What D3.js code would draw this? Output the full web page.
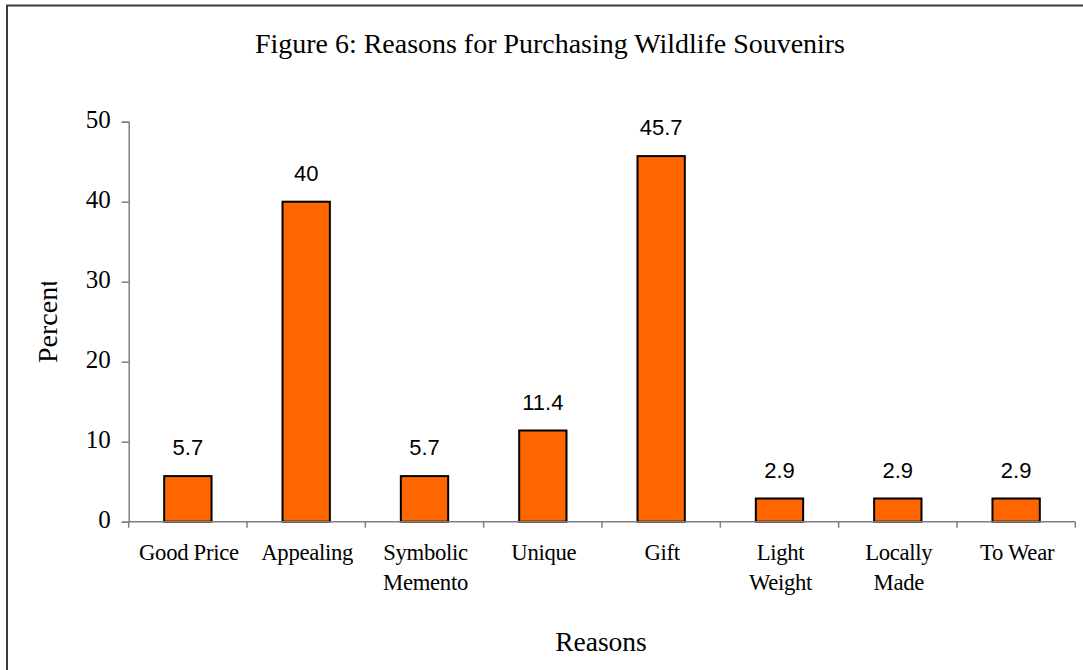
<!DOCTYPE html>
<html>
<head>
<meta charset="utf-8">
<script src="https://cdn.jsdelivr.net/npm/d3@7"></script>
<style>
  html, body { margin: 0; padding: 0; background: #fff; }
  svg { display: block; font-family: "Liberation Serif", "Times New Roman", serif; }
</style>
</head>
<body>
<svg id="chart" width="1083" height="670"></svg>
<script>
// Reasons given for buying wildlife souvenirs (percent of respondents)
const categories = [
  ["Good Price"], ["Appealing"], ["Symbolic", "Memento"], ["Unique"],
  ["Gift"], ["Light", "Weight"], ["Locally", "Made"], ["To Wear"]
];
const values = [5.7, 40, 5.7, 11.4, 45.7, 2.9, 2.9, 2.9];
const valueLabels = ["5.7", "40", "5.7", "11.4", "45.7", "2.9", "2.9", "2.9"];
const yTicks = [0, 10, 20, 30, 40, 50];

const SERIF = "'Liberation Serif', 'Times New Roman', serif";
const SANS = "'Liberation Sans', Arial, sans-serif";

const svg = d3.select("#chart");
const W = 1083, H = 670;
const plot = { left: 128.7, right: 1075.3, top: 121.7, bottom: 521.7 };

// outer frame
svg.append("rect")
  .attr("x", 7).attr("y", 5.5)
  .attr("width", W + 20).attr("height", H + 20)
  .attr("fill", "none").attr("stroke", "#3a3a3a").attr("stroke-width", 2);

const keys = categories.map((c, i) => i);
const x = d3.scaleBand().domain(keys).range([plot.left, plot.right]).paddingInner(0).paddingOuter(0);
const y = d3.scaleLinear().domain([0, 50]).range([plot.bottom, plot.top]);

// title
svg.append("text")
  .attr("x", 550).attr("y", 53)
  .attr("text-anchor", "middle")
  .style("font-family", SERIF)
  .attr("font-size", 26.5)
  .attr("textLength", 590).attr("lengthAdjust", "spacingAndGlyphs")
  .attr("fill", "#000")
  .text("Figure 6: Reasons for Purchasing Wildlife Souvenirs");

// y axis
const yAxis = svg.append("g")
  .attr("transform", `translate(${plot.left},0)`)
  .call(d3.axisLeft(y).tickValues(yTicks).tickSize(7).tickPadding(11).tickFormat(d3.format("d")));
yAxis.select(".domain").attr("stroke", "#7f7f7f").attr("stroke-width", 1.5);
yAxis.selectAll(".tick line").attr("stroke", "#7f7f7f").attr("stroke-width", 1.5);
yAxis.selectAll(".tick text")
  .style("font-family", SERIF)
  .attr("font-size", 25).attr("fill", "#000")
  .attr("dy", "0.22em");

// y axis title (clipped at the top)
svg.append("clipPath").attr("id", "ytclip")
  .append("rect").attr("x", 0).attr("y", 282).attr("width", 100).attr("height", 200);
svg.append("g").attr("clip-path", "url(#ytclip)")
  .append("text")
  .attr("transform", "translate(57,363) rotate(-90)")
  .style("font-family", SERIF)
  .attr("font-size", 28)
  .attr("fill", "#000")
  .text("Percent");

// bars
const barW = x.bandwidth() * 0.4;
svg.append("g").selectAll("rect")
  .data(values)
  .join("rect")
  .attr("x", (d, i) => x(i) + (x.bandwidth() - barW) / 2)
  .attr("y", d => y(d))
  .attr("width", barW)
  .attr("height", d => y(0) - y(d))
  .attr("fill", "#ff6600")
  .attr("stroke", "#000")
  .attr("stroke-width", 2);

// value labels
svg.append("g").selectAll("text")
  .data(values)
  .join("text")
  .attr("x", (d, i) => x(i) + x.bandwidth() / 2)
  .attr("y", d => y(d) - 21)
  .attr("text-anchor", "middle")
  .style("font-family", SANS)
  .attr("font-size", 22)
  .attr("fill", "#000")
  .text((d, i) => valueLabels[i]);

// x axis line and category boundary ticks
const xg = svg.append("g");
xg.append("line")
  .attr("x1", plot.left).attr("x2", plot.right)
  .attr("y1", y(0)).attr("y2", y(0))
  .attr("stroke", "#7f7f7f").attr("stroke-width", 1.5);
const bounds = keys.map(k => x(k)).concat([x(keys[keys.length - 1]) + x.bandwidth()]);
xg.selectAll("line.tk")
  .data(bounds)
  .join("line").attr("class", "tk")
  .attr("x1", d => d).attr("x2", d => d)
  .attr("y1", y(0)).attr("y2", y(0) + 6)
  .attr("stroke", "#7f7f7f").attr("stroke-width", 1.5);

// category labels
const cl = svg.append("g").selectAll("text")
  .data(categories)
  .join("text")
  .attr("x", (d, i) => x(i) + x.bandwidth() / 2 + 1)
  .attr("y", 560)
  .attr("text-anchor", "middle")
  .style("font-family", SERIF)
  .attr("font-size", 22.7).attr("letter-spacing", -0.3)
  .attr("fill", "#000");
cl.selectAll("tspan")
  .data(d => d)
  .join("tspan")
  .attr("x", function () { return this.parentNode.getAttribute("x"); })
  .attr("dy", (d, j) => j === 0 ? 0 : 30)
  .text(d => d);

// x axis title
svg.append("text")
  .attr("x", 601).attr("y", 651)
  .attr("text-anchor", "middle")
  .style("font-family", SERIF)
  .attr("font-size", 27.5)
  .attr("fill", "#000")
  .text("Reasons");
</script>
</body>
</html>
